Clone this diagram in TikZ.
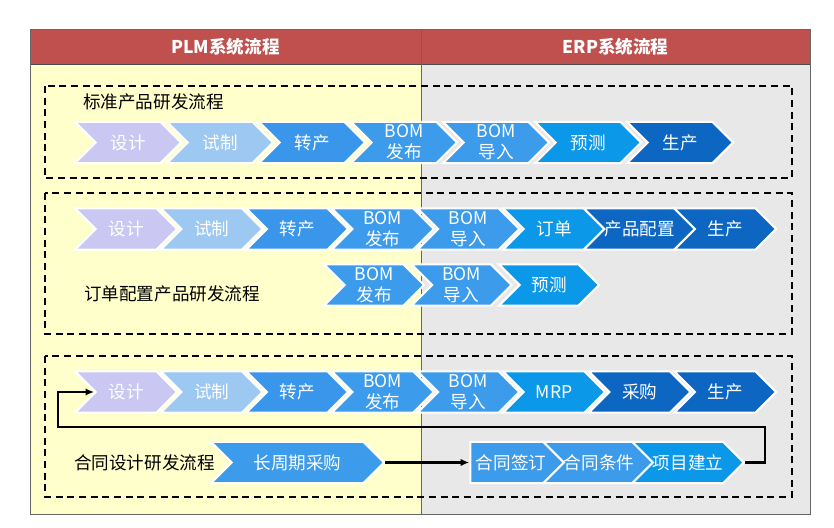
\documentclass[tikz,border=0pt]{standalone}
\usepackage{fontspec}
\setmainfont{Noto Sans CJK SC}
\usetikzlibrary{shapes.symbols,arrows.meta}
\definecolor{hdrred}{HTML}{C0504D}
\definecolor{plmbg}{HTML}{FFFFCC}
\definecolor{erpbg}{HTML}{E8E8E8}
\definecolor{clav}{HTML}{CAC8F2}
\definecolor{clight}{HTML}{9CC8F2}
\definecolor{cmid}{HTML}{3996EA}
\definecolor{cbom}{HTML}{3C9BEA}
\definecolor{ccyan}{HTML}{0C98E8}
\definecolor{cdark}{HTML}{0C66C2}

\begin{document}
\begin{tikzpicture}[x=0.3mm,y=-0.3mm,
  chev/.style={signal,signal from=west,signal to=east,draw=white,line width=1.8pt,
    text=white,inner sep=0pt,minimum height=12.4mm,align=center,
    font=\fontsize{15}{18}\selectfont},
  plate/.style={chev,signal from=nowhere},
  lbl/.style={anchor=west,font=\fontsize{15}{18}\selectfont},
  hdr/.style={text=white,font=\fontsize{15}{18}\selectfont\bfseries},
  grp/.style={dash pattern=on 2.1mm off 1.4mm,line width=2pt},
  conn/.style={line width=2pt,-{Latex[length=2.6mm,width=2.2mm]}}]
\useasboundingbox (0,0) rectangle (834,528);
\fill[plmbg] (30,64) rectangle (421,514);
\fill[erpbg] (421,64) rectangle (810,514);
\draw[fill=hdrred,draw=black!70] (30,29) rectangle (810,64);
\draw[black!60] (30,29) rectangle (810,514);
\draw[black!60] (421,29) -- (421,514);
\node[hdr] (h1) at (225.5,46.5) {PLM系统流程};
\node[hdr] (h2) at (615.5,46.5) {ERP系统流程};

\draw[grp] (45,86) rectangle (792,178);
\draw[grp] (45,193) rectangle (792,334);
\draw[grp] (45,356) rectangle (792,497);

\node[lbl] (t1) at (79,102) {标准产品研发流程};
\node[lbl] (t2) at (80,294) {订单配置产品研发流程};
\node[lbl] (t3) at (70,463) {合同设计研发流程};

\tikzset{chev/.append style={minimum width=31.8mm}}
\node[chev,fill=clav] (a1) at (128,142.5) {设计};
\node[chev,fill=clight] (a2) at (220,142.5) {试制};
\node[chev,fill=cmid] (a3) at (312,142.5) {转产};
\node[chev,fill=cbom] (a4) at (404,142.5) {BOM\\发布};
\node[chev,fill=cbom] (a5) at (496,142.5) {BOM\\导入};
\node[chev,fill=ccyan] (a6) at (588,142.5) {预测};
\node[chev,fill=cdark] (a7) at (680,142.5) {生产};

\tikzset{chev/.append style={minimum width=30.6mm}}
\node[chev,fill=clav] (b1) at (126,229) {设计};
\node[chev,fill=clight] (b2) at (211.6,229) {试制};
\node[chev,fill=cmid] (b3) at (297.2,229) {转产};
\node[chev,fill=cbom] (b4) at (382.8,229) {BOM\\发布};
\node[chev,fill=cbom] (b5) at (468.4,229) {BOM\\导入};
\node[chev,fill=ccyan] (b6) at (554,229) {订单};
\node[chev,fill=cdark] (b7) at (639.6,229) {产品配置};
\node[chev,fill=cdark] (b8) at (725.2,229) {生产};

\node[chev,fill=cbom,minimum width=30mm] (e1) at (374,285) {BOM\\发布};
\node[chev,fill=cbom,minimum width=30mm] (e2) at (461.5,285) {BOM\\导入};
\node[chev,fill=ccyan,minimum width=30mm] (e3) at (549,285) {预测};

\node[chev,fill=clav] (c1) at (126,392) {设计};
\node[chev,fill=clight] (c2) at (211.6,392) {试制};
\node[chev,fill=cmid] (c3) at (297.2,392) {转产};
\node[chev,fill=cbom] (c4) at (382.8,392) {BOM\\发布};
\node[chev,fill=cbom] (c5) at (468.4,392) {BOM\\导入};
\node[chev,fill=ccyan] (c6) at (554,392) {MRP};
\node[chev,fill=cdark] (c7) at (639.6,392) {采购};
\node[chev,fill=cdark] (c8) at (725.2,392) {生产};

\node[chev,fill=cbom,minimum width=51.9mm] (f1) at (297.5,462.5) {长周期采购};
\node[plate,fill=cbom,minimum width=30.6mm] (g1) at (511,462.5) {合同签订};
\node[chev,fill=cbom,minimum width=29.4mm] (g2) at (599,462.5) {合同条件};
\node[chev,fill=ccyan,minimum width=31.5mm] (g3) at (688,462.5) {项目建立};

\draw[conn] (f1.east) -- (g1.west);
\draw[conn] (g3.east) -- (765,462.5) |- (58,427) |- (c1.west);
\end{tikzpicture}
\end{document}
